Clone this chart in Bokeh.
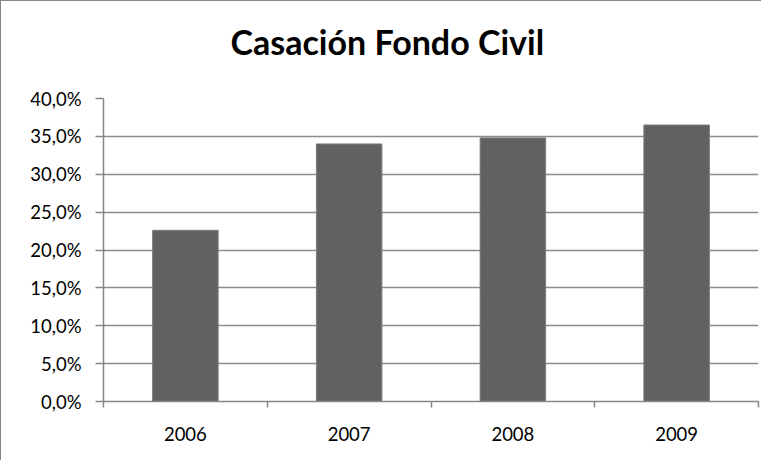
import numpy as np
from bokeh.plotting import figure
from bokeh.models import Range1d, FixedTicker, Title
from bokeh.embed import file_html
from bokeh.resources import INLINE

title_text = "Casación Fondo Civil"
years = ["2006", "2007", "2008", "2009"]
values = [22.6, 34.0, 34.8, 36.5]
y_ticks = [0, 5, 10, 15, 20, 25, 30, 35, 40]
y_labels = ["0,0%", "5,0%", "10,0%", "15,0%", "20,0%", "25,0%", "30,0%", "35,0%", "40,0%"]

centers = list(np.arange(len(years)) + 0.5)
bounds = list(np.arange(len(years) + 1).astype(float))

GRAY = "#868686"
FONT = "Lato"

p = figure(width=761, height=460, output_backend="svg", toolbar_location=None,
           x_range=Range1d(0, len(years)), y_range=Range1d(0, 40),
           min_border_left=102, min_border_right=4, min_border_top=97, min_border_bottom=60)
p.styles = {"border-left": "1px solid #868686", "border-top": "1px solid #868686"}

p.vbar(x=centers, top=values, width=0.4, fill_color="#616161", line_color="#7c7c7c", line_width=1)

# spacer between frame and title
p.title.text = ""
spacer = Title(text=" ", text_font_size="2px", standoff=33)
p.add_layout(spacer, "above")

main_title = Title(text=title_text, text_font=FONT, text_font_style="bold",
                   text_font_size="34px", align="left", offset=127, standoff=0,
                   text_color="#000000")
p.add_layout(main_title, "above")

p.outline_line_color = None
p.xgrid.grid_line_color = None
p.ygrid.ticker = FixedTicker(ticks=y_ticks)
p.ygrid.grid_line_color = "#8c8c8c"
p.ygrid.grid_line_width = 1.5

ya = p.yaxis[0]
ya.ticker = FixedTicker(ticks=y_ticks, minor_ticks=[])
ya.major_label_overrides = {t: l for t, l in zip(y_ticks, y_labels)}
ya.axis_line_color = GRAY
ya.axis_line_width = 1.5
ya.major_tick_line_color = GRAY
ya.major_tick_line_width = 1.5
ya.major_tick_out = 8
ya.major_tick_in = 0
ya.minor_tick_line_color = None
ya.major_label_standoff = 14
ya.major_label_text_font = FONT
ya.major_label_text_font_size = "18.5px"
ya.major_label_text_color = "#000000"

xa = p.xaxis[0]
xa.ticker = FixedTicker(ticks=centers, minor_ticks=bounds)
xa.major_label_overrides = {c: y for c, y in zip(centers, years)}
xa.axis_line_color = GRAY
xa.axis_line_width = 1.5
xa.major_tick_line_color = None
xa.major_tick_out = 6
xa.major_tick_in = 0
xa.minor_tick_line_color = GRAY
xa.minor_tick_line_width = 1.5
xa.minor_tick_out = 6
xa.minor_tick_in = 0
xa.major_label_standoff = 19
xa.major_label_text_font = FONT
xa.major_label_text_font_size = "18.5px"
xa.major_label_text_color = "#000000"

open("out.html", "w").write(file_html(p, INLINE))
